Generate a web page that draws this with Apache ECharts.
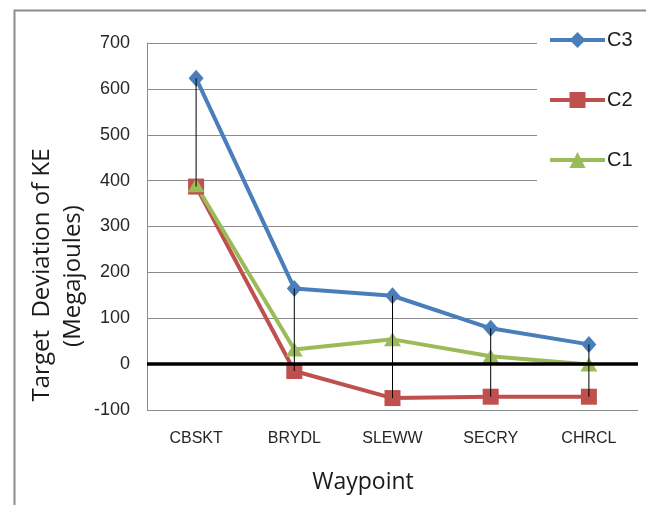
<!DOCTYPE html>
<html>
<head>
<meta charset="utf-8">
<script src="https://cdn.jsdelivr.net/npm/echarts@6/dist/echarts.min.js"></script>
<style>
html,body{margin:0;padding:0;background:#fff;}
#chart{width:646px;height:505px;}
</style>
</head>
<body>
<div id="chart"></div>
<script>
var categories = ['CBSKT', 'BRYDL', 'SLEWW', 'SECRY', 'CHRCL'];
var c3 = [623, 165, 149, 78, 43];
var c2 = [387, -15, -74, -71, -71];
var c1 = [390, 32, 54, 17, -1];
var yTicks = [-100, 0, 100, 200, 300, 400, 500, 600, 700];

var font = 'Liberation Sans, Arial, sans-serif';
var titleFont = '"Open Sans", "Liberation Sans", sans-serif';
var dropData = categories.map(function (c, i) {
  return [i, Math.max(c3[i], c2[i], c1[i]), Math.min(c3[i], c2[i], c1[i])];
});

var chart = echarts.init(document.getElementById('chart'));
chart.setOption({
  animation: false,
  backgroundColor: '#fff',
  graphic: [
    {type: 'rect', left: 12, top: 8, shape: {width: 700, height: 600}, style: {fill: 'none', stroke: '#8c8c8c', lineWidth: 2}, z: 0},
    {type: 'text', x: 42, y: 275, rotation: Math.PI / 2, style: {text: 'Target  Deviation of KE', font: '24px ' + titleFont, fill: '#1a1a1a', align: 'center', verticalAlign: 'middle'}, z: 10},
    {type: 'text', x: 73, y: 276, rotation: Math.PI / 2, style: {text: '(Megajoules)', font: '24px ' + titleFont, fill: '#1a1a1a', align: 'center', verticalAlign: 'middle'}, z: 10},
    {type: 'text', x: 363, y: 482, style: {text: 'Waypoint', font: '23px ' + titleFont, fill: '#1a1a1a', align: 'center', verticalAlign: 'middle'}, z: 10}
  ],
  grid: {left: 147, right: 8, top: 43, bottom: 95, containLabel: false},
  legend: {
    orient: 'vertical',
    left: 537,
    top: 23,
    padding: [7, 20, 20, 11],
    itemGap: 40,
    itemWidth: 55,
    itemHeight: 20,
    backgroundColor: '#fff',
    data: ['C3', 'C2', 'C1'],
    lineStyle: {width: 4},
    textStyle: {fontSize: 20, fontFamily: font, color: '#1a1a1a', padding: [0, 0, 0, -3]},
    z: 20
  },
  xAxis: {
    type: 'category',
    data: categories,
    boundaryGap: true,
    axisLine: {show: false, onZero: false},
    axisTick: {show: false},
    axisLabel: {fontSize: 16, fontFamily: font, color: '#262626', margin: 21}
  },
  yAxis: {
    type: 'value',
    min: yTicks[0],
    max: yTicks[yTicks.length - 1],
    interval: 100,
    axisLine: {show: true, lineStyle: {color: '#8c8c8c', width: 1}},
    axisTick: {show: false},
    axisLabel: {fontSize: 18, fontFamily: font, color: '#262626', margin: 17},
    splitLine: {show: true, lineStyle: {color: '#8c8c8c', width: 1}}
  },
  series: [
    {
      name: 'zero', type: 'line', data: [], z: 1, silent: true,
      markLine: {silent: true, symbol: 'none', label: {show: false}, lineStyle: {color: '#000', width: 3.5, type: 'solid'}, data: [{yAxis: 0}]}
    },
    {
      name: 'C3', type: 'line', data: c3, symbol: 'diamond', symbolSize: [15, 17],
      lineStyle: {color: '#4a7ebb', width: 4}, itemStyle: {color: '#4a7ebb'}, z: 3
    },
    {
      name: 'C2', type: 'line', data: c2, symbol: 'rect', symbolSize: 16,
      lineStyle: {color: '#c0504d', width: 4}, itemStyle: {color: '#c0504d'}, z: 3
    },
    {
      name: 'C1', type: 'line', data: c1, symbol: 'triangle', symbolSize: [17, 14],
      lineStyle: {color: '#9bbb59', width: 4}, itemStyle: {color: '#9bbb59'}, z: 3
    },
    {
      name: 'drop', type: 'custom', data: dropData, z: 5, silent: true,
      renderItem: function (params, api) {
        var top = api.coord([api.value(0), api.value(1)]);
        var bot = api.coord([api.value(0), api.value(2)]);
        return {type: 'line', shape: {x1: top[0], y1: top[1], x2: bot[0], y2: bot[1]}, style: {stroke: '#000', lineWidth: 1}};
      }
    }
  ]
});
</script>
</body>
</html>
